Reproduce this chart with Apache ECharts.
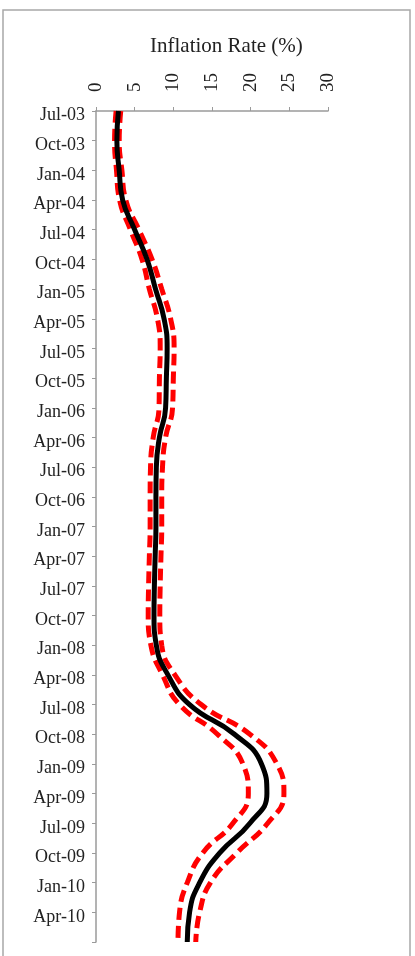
<!DOCTYPE html>
<html>
<head>
<meta charset="utf-8">
<title>Inflation Rate</title>
<script src="https://cdn.jsdelivr.net/npm/echarts@6/dist/echarts.min.js"></script>
<style>
  html, body { margin: 0; padding: 0; background: #ffffff; }
  #chart { width: 415px; height: 956px; }
</style>
</head>
<body>
<div id="chart"></div>
<script>
// Quarterly periods; the last one only closes the axis and carries no label.
const quarters = [
  'Jul-03', 'Oct-03', 'Jan-04', 'Apr-04', 'Jul-04', 'Oct-04', 'Jan-05', 'Apr-05',
  'Jul-05', 'Oct-05', 'Jan-06', 'Apr-06', 'Jul-06', 'Oct-06', 'Jan-07', 'Apr-07',
  'Jul-07', 'Oct-07', 'Jan-08', 'Apr-08', 'Jul-08', 'Oct-08', 'Jan-09', 'Apr-09',
  'Jul-09', 'Oct-09', 'Jan-10', 'Apr-10', 'Jul-10'
];

// Inflation rate (%) — central estimate
const inflation = [
  2.9, 2.7, 3.0, 3.45, 5.0, 6.6, 7.7, 8.8,
  9.2, 9.1, 9.0, 8.2, 7.8, 7.75, 7.75, 7.65,
  7.55, 7.5, 7.8, 9.3, 12.1, 17.9, 21.4, 22.1,
  19.9, 16.0, 13.4, 12.1, 11.8
];

// Lower and upper bounds of the band
const lowerBound = [
  2.6, 2.4, 2.65, 3.05, 4.45, 5.95, 6.9, 7.95,
  8.3, 8.2, 8.15, 7.4, 7.05, 7.0, 7.0, 6.9,
  6.8, 6.75, 7.1, 8.6, 10.8, 15.7, 19.0, 19.7,
  17.7, 13.8, 11.8, 10.8, 10.6
];
const upperBound = [
  3.2, 3.0, 3.35, 3.85, 5.55, 7.25, 8.5, 9.65,
  10.1, 10.0, 9.9, 9.0, 8.6, 8.5, 8.5, 8.4,
  8.3, 8.25, 8.5, 10.2, 13.6, 19.9, 23.4, 24.3,
  22.2, 18.2, 14.8, 13.4, 12.9
];

const SERIF = '"Liberation Serif", "Times New Roman", "DejaVu Serif", serif';
const AXIS_GREY = '#9a9a9a';
const TEXT = '#222222';

const chart = echarts.init(document.getElementById('chart'), null, { renderer: 'canvas' });

const bandStyle = {
  color: '#ff0000',
  width: 5,
  type: [12, 6],
  cap: 'butt'
};

chart.setOption({
  animation: false,
  backgroundColor: '#ffffff',
  graphic: [{
    type: 'rect',
    shape: { x: 3, y: 10, width: 407, height: 960 },
    style: { fill: 'none', stroke: '#a8a8a8', lineWidth: 1.5 },
    silent: true
  }],
  title: {
    text: 'Inflation Rate (%)',
    left: 145,
    top: 31,
    textStyle: {
      fontFamily: SERIF,
      fontSize: 21,
      fontWeight: 'normal',
      color: TEXT
    }
  },
  grid: {
    left: 96,
    top: 111,
    width: 232,
    bottom: 14,
    containLabel: false,
    outerBoundsMode: 'none'
  },
  xAxis: {
    type: 'value',
    position: 'top',
    min: 0,
    max: 30,
    interval: 5,
    axisLine: { show: true, lineStyle: { color: AXIS_GREY, width: 1.5 } },
    axisTick: { show: true, inside: false, length: 4, lineStyle: { color: AXIS_GREY } },
    splitLine: { show: false },
    axisLabel: {
      rotate: -90,
      margin: 19,
      fontFamily: SERIF,
      fontSize: 19,
      color: TEXT
    }
  },
  yAxis: {
    type: 'category',
    inverse: true,
    boundaryGap: false,
    data: quarters,
    axisLine: { show: true, lineStyle: { color: AXIS_GREY, width: 1.5 } },
    axisTick: { show: true, inside: false, length: 4, lineStyle: { color: AXIS_GREY } },
    splitLine: { show: false },
    axisLabel: {
      interval: 0,
      margin: 11,
      fontFamily: SERIF,
      fontSize: 18,
      color: TEXT,
      // labels sit a little below their tick marks
      formatter: (value, index) => (index < quarters.length - 1 ? '{q|' + value + '}' : ''),
      rich: {
        q: {
          fontFamily: SERIF,
          fontSize: 18,
          color: TEXT,
          padding: [9, 0, 0, 0]
        }
      }
    }
  },
  series: [
    {
      name: 'Lower bound',
      type: 'line',
      data: lowerBound,
      smooth: true,
      showSymbol: false,
      symbol: 'none',
      lineStyle: bandStyle,
      z: 2
    },
    {
      name: 'Upper bound',
      type: 'line',
      data: upperBound,
      smooth: true,
      showSymbol: false,
      symbol: 'none',
      lineStyle: bandStyle,
      z: 2
    },
    {
      name: 'Inflation rate',
      type: 'line',
      data: inflation,
      smooth: true,
      showSymbol: false,
      symbol: 'none',
      lineStyle: { color: '#000000', width: 5 },
      z: 3
    }
  ]
});
</script>
</body>
</html>
